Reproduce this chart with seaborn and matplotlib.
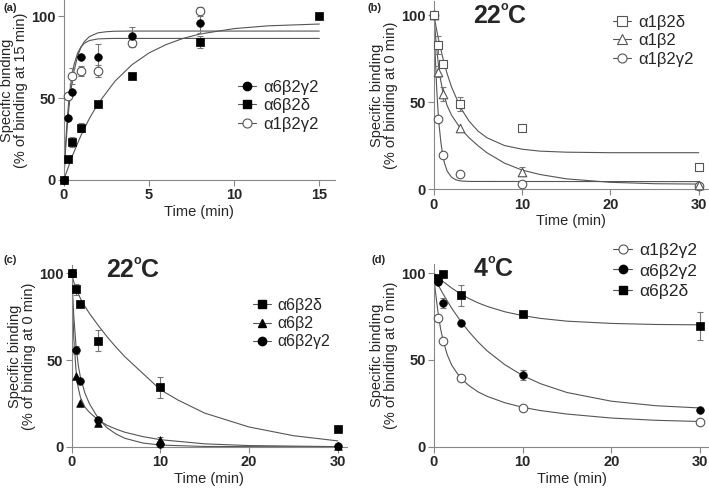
import numpy as np
import matplotlib
matplotlib.use("Agg")
import matplotlib.pyplot as plt
from matplotlib.lines import Line2D
from matplotlib.transforms import IdentityTransform
import seaborn as sns

# ---------------- data ----------------
# (a) association, % of binding at 15 min
a_g6_t = [0, 0.25, 0.5, 1, 2, 4, 8]
a_g6_y = [0, 38, 54, 75, 75, 88, 96]
a_g6_err = [0, 0, 0, 0, 8, 5.5, 6]
a_d6_t = [0, 0.25, 0.5, 1, 2, 4, 8, 15]
a_d6_y = [0, 13, 23, 32, 46.5, 63.7, 84.4, 100]
a_d6_err = [0, 0, 3, 3, 0, 0, 3.5, 0]
a_g1_t = [0.25, 0.5, 1, 2, 4, 8]
a_g1_y = [51.3, 63.5, 66.7, 66.7, 83.4, 103]
a_g1_err = [0, 5, 3, 3.5, 2, 3]

# fitted curves of (a)
a_fit_g6_t = [0, 0.1, 0.2, 0.3, 0.4, 0.5, 0.6, 0.8, 1, 1.2, 1.5, 2, 2.5, 3, 4, 15]
a_fit_g6_y = [0, 18, 32.4, 43.9, 53.2, 60.7, 66.7, 75.3, 80.9, 84.5, 87.6, 89.9, 90.6, 90.9, 91, 91]
a_fit_g1_t = [0, 0.1, 0.2, 0.3, 0.4, 0.5, 0.6, 0.8, 1, 1.2, 1.5, 2, 2.5, 3, 15]
a_fit_g1_y = [0, 21.1, 37.1, 49.1, 58.3, 65.1, 70.4, 77.3, 81.2, 83.5, 85.2, 86.2, 86.4, 86.5, 86.5]
a_fit_d6_t = [0, 0.5, 1, 1.5, 2, 3, 4, 5, 6, 7, 8, 10, 12, 15]
a_fit_d6_y = [0, 14.6, 27, 37.5, 46.4, 60.3, 70.4, 77.6, 82.7, 86.5, 89.2, 92.5, 94.2, 95.3]

# (b) dissociation at 22 C, alpha1 receptors
b_t = [0, 0.5, 1, 3, 10, 30]
b_d1_y = [100, 82.8, 71.7, 49, 35, 13]
b_d1_err = [0, 5, 0, 4, 0, 0]
b_b1_y = [100, 67.5, 54.5, 35, 10.1, 2.5]
b_b1_err = [0, 3, 4, 0, 2.5, 0]
b_g1_y = [100, 40.3, 19.7, 8.8, 3, 2]
b_g1_err = [0, 0, 0, 0, 0, 0]

b_fit_d1_t = [0, 0.25, 0.5, 1, 1.5, 2, 3, 4, 5, 6, 8, 10, 12, 15, 20, 30]
b_fit_d1_y = [100, 93, 86.6, 75.6, 66.3, 58.7, 47, 39, 33.4, 29.6, 25.1, 23, 21.9, 21.3, 21, 21]
b_fit_b1_t = [0, 0.25, 0.5, 0.75, 1, 1.5, 2, 3, 4, 5, 6, 8, 10, 12, 15, 20, 25, 30]
b_fit_b1_y = [100, 84, 72, 63, 56.5, 48, 42.5, 35, 29.5, 25, 21, 15, 11, 8.5, 6, 4, 3.2, 3]
b_fit_g1_t = [0, 0.1, 0.2, 0.3, 0.4, 0.5, 0.6, 0.8, 1, 1.2, 1.5, 2, 2.5, 3, 4, 30]
b_fit_g1_y = [100, 84, 70.7, 59.6, 50.4, 42.6, 36.2, 26.5, 19.7, 15, 10.5, 6.9, 5.4, 4.8, 4.5, 4.4]

# (c) dissociation at 22 C, alpha6 receptors
c_t = [0, 0.5, 1, 3, 10, 30]
c_d6_y = [100, 90.8, 82.6, 61.3, 34.5, 10.3]
c_d6_err = [0, 3, 0, 6, 6, 0]
c_b6_y = [100, 40.7, 25.4, 14, 4.2, 0.4]
c_b6_err = [0, 0, 0, 0, 1.5, 0]
c_g6_y = [100, 55.8, 38.2, 15.7, 1.7, 0.4]
c_g6_err = [0, 2.5, 0, 0, 0, 0]

c_fit_d6_t = [0, 0.25, 0.5, 1, 1.5, 2, 3, 4, 5, 6, 8, 10, 12, 15, 20, 25, 30]
c_fit_d6_y = [100, 95, 91, 85.5, 81, 77, 70, 63.5, 57.5, 52, 42.5, 33, 27, 19.5, 11.5, 6.5, 3.5]
c_fit_g6_t = [0, 0.25, 0.5, 0.75, 1, 1.5, 2, 3, 4, 5, 6, 8, 10, 15, 30]
c_fit_g6_y = [100, 75, 58, 47, 40, 31, 25, 16.5, 11, 7.5, 5, 2.3, 1.1, 0.3, 0]
c_fit_b6_t = [0, 0.25, 0.5, 0.75, 1, 1.5, 2, 3, 4, 5, 6, 8, 10, 15, 20, 30]
c_fit_b6_y = [100, 62, 44, 34, 28.5, 23, 20, 15.5, 12.5, 10.3, 8.5, 6, 4.2, 1.8, 0.8, 0.2]

# (d) dissociation at 4 C
d_t = [0.5, 1, 3, 10, 30]
d_g1_y = [74, 60.6, 39.4, 22.5, 14]
d_g1_err = [0, 0, 0, 1.5, 1]
d_g6_y = [94.8, 82.7, 71.2, 41.3, 21.2]
d_g6_err = [0, 3, 0, 3, 0]
d_d6_y = [97.1, 99.6, 87.1, 76.5, 69.6]
d_d6_err = [0, 0, 6, 0, 8]

d_fit_d6_t = [0, 1, 2, 3, 4, 5, 6, 8, 10, 12, 15, 20, 25, 30]
d_fit_d6_y = [100, 95.3, 91.4, 88, 85.2, 82.8, 80.8, 77.7, 75.5, 73.9, 72.3, 71, 70.4, 70.2]
d_fit_g6_t = [0, 0.5, 1, 2, 3, 4, 5, 6, 8, 10, 12, 15, 20, 25, 30]
d_fit_g6_y = [98, 93, 88.3, 79.8, 72.4, 65.9, 60.2, 55.2, 47.2, 41, 36.3, 31.2, 26.2, 23.6, 22.3]
d_fit_g1_t = [0, 0.25, 0.5, 0.75, 1, 1.5, 2, 3, 4, 5, 6, 8, 10, 12, 15, 20, 25, 30]
d_fit_g1_y = [97, 86, 76, 68, 62, 53, 47, 39.5, 35, 31.5, 29, 25.3, 22.7, 20.8, 18.8, 16.5, 15.2, 14.5]

# ---------------- style ----------------
sns.set_style("ticks")
plt.rcParams['font.family'] = ['Liberation Sans', 'DejaVu Sans']

LINE = '#555555'
GREY = '#555555'
ERR = '#777777'
SPINE = '#888888'

W, H = 709, 490
fig = plt.figure(figsize=(W / 100, H / 100), dpi=100)


def setup(ax, xlim, ylim, xticks, ylabel):
    ax.set_xlim(*xlim)
    ax.set_ylim(*ylim)
    ax.set_xticks(xticks)
    ax.set_yticks([0, 50, 100])
    sns.despine(ax=ax)
    for s in ['left', 'bottom']:
        ax.spines[s].set_color(SPINE)
        ax.spines[s].set_linewidth(0.8)
    ax.tick_params(direction='out', length=4, width=0.8, color=SPINE,
                   labelsize=10.5, pad=2)
    for lab in ax.get_xticklabels() + ax.get_yticklabels():
        lab.set_fontweight('bold')
    ax.set_xlabel('Time (min)', fontsize=10.5, labelpad=2)
    ax.set_ylabel(ylabel, fontsize=10.5, labelpad=2, linespacing=1.0)
    ax.patch.set_alpha(0)


def curve(ax, t, y):
    sns.lineplot(x=t, y=y, ax=ax, color=LINE, lw=0.8, estimator=None,
                 sort=False, zorder=2)


def points(ax, t, y, err, marker, filled, s=30):
    t = np.asarray(t, float)
    y = np.asarray(y, float)
    err = np.asarray(err, float)
    m = err > 0
    if m.any():
        ax.errorbar(t[m], y[m], yerr=err[m], fmt='none', ecolor=ERR,
                    elinewidth=0.8, capsize=2.5, capthick=0.8, zorder=3,
                    clip_on=False)
    if filled:
        sns.scatterplot(x=t, y=y, ax=ax, marker=marker, s=s, color='black',
                        edgecolor='black', linewidth=0.5, zorder=4,
                        clip_on=False)
    else:
        sns.scatterplot(x=t, y=y, ax=ax, marker=marker, s=s + 8, color='white',
                        edgecolor=GREY, linewidth=0.8, zorder=4,
                        clip_on=False)


def handle(marker, filled, label):
    if filled:
        return Line2D([0], [0], color=LINE, lw=0.8, marker=marker, markersize=6,
                      mfc='black', mec='black', label=label)
    return Line2D([0], [0], color=LINE, lw=0.8, marker=marker, markersize=6.5,
                  mfc='white', mec=GREY, mew=0.8, label=label)


def legend(ax, handles, x, y, size=12, spacing=0.2):
    # x, y: top-left corner in pixels from the top-left of the figure
    ax.legend(handles=handles, loc='upper left', bbox_to_anchor=(x / W, 1 - y / H),
              bbox_transform=fig.transFigure, frameon=False, fontsize=size,
              handlelength=1.1, handletextpad=0.4, labelspacing=spacing,
              borderpad=0, borderaxespad=0)


def temp_label(num, left, base):
    # bold number, small raised "o", then "C" (pixel coords from top-left)
    r = fig.canvas.get_renderer()
    ident = IdentityTransform()
    y = H - base
    t1 = fig.text(left, y, num, fontsize=18, fontweight='bold',
                  transform=ident, va='baseline')
    w1 = t1.get_window_extent(r).width
    t2 = fig.text(left + w1, y + 13, 'o', fontsize=9, fontweight='bold',
                  transform=ident, va='baseline')
    w2 = t2.get_window_extent(r).width
    fig.text(left + w1 + w2, y, 'C', fontsize=18, fontweight='bold',
             transform=ident, va='baseline')


ylab15 = 'Specific binding\n(% of binding at 15 min)'
ylab0 = 'Specific binding\n(% of binding at 0 min)'

# ---------------- (a) ----------------
ax = fig.add_axes([0.090, 0.633, 0.382, 0.367])
curve(ax, a_fit_g6_t, a_fit_g6_y)
curve(ax, a_fit_g1_t, a_fit_g1_y)
curve(ax, a_fit_d6_t, a_fit_d6_y)
points(ax, a_g1_t, a_g1_y, a_g1_err, 'o', False)
points(ax, a_g6_t, a_g6_y, a_g6_err, 'o', True)
points(ax, a_d6_t, a_d6_y, a_d6_err, 's', True)
setup(ax, (0, 15.9), (0, 110), [0, 5, 10, 15], ylab15)
legend(ax, [handle('o', True, 'α6β2γ2'), handle('s', True, 'α6β2δ'),
            handle('o', False, 'α1β2γ2')], 238, 80)

# ---------------- (b) ----------------
ax = fig.add_axes([0.612, 0.6137, 0.386, 0.384])
curve(ax, b_fit_d1_t, b_fit_d1_y)
curve(ax, b_fit_b1_t, b_fit_b1_y)
curve(ax, b_fit_g1_t, b_fit_g1_y)
points(ax, b_t, b_g1_y, b_g1_err, 'o', False)
points(ax, b_t, b_b1_y, b_b1_err, '^', False)
points(ax, b_t, b_d1_y, b_d1_err, 's', False)
setup(ax, (0, 31), (0, 108), [0, 10, 20, 30], ylab0)
legend(ax, [handle('s', False, 'α1β2δ'), handle('^', False, 'α1β2'),
            handle('o', False, 'α1β2γ2')], 613, 15)

# ---------------- (c) ----------------
ax = fig.add_axes([0.101, 0.0878, 0.388, 0.372])
curve(ax, c_fit_d6_t, c_fit_d6_y)
curve(ax, c_fit_g6_t, c_fit_g6_y)
curve(ax, c_fit_b6_t, c_fit_b6_y)
points(ax, c_t, c_b6_y, c_b6_err, '^', True)
points(ax, c_t, c_g6_y, c_g6_err, 'o', True)
points(ax, c_t, c_d6_y, c_d6_err, 's', True)
setup(ax, (0, 31), (0, 105), [0, 10, 20, 30], ylab0)
legend(ax, [handle('s', True, 'α6β2δ'), handle('^', True, 'α6β2'),
            handle('o', True, 'α6β2γ2')], 253, 298, size=11.5)

# ---------------- (d) ----------------
ax = fig.add_axes([0.612, 0.0884, 0.388, 0.372])
curve(ax, d_fit_d6_t, d_fit_d6_y)
curve(ax, d_fit_g6_t, d_fit_g6_y)
curve(ax, d_fit_g1_t, d_fit_g1_y)
points(ax, d_t, d_g1_y, d_g1_err, 'o', False)
points(ax, d_t, d_g6_y, d_g6_err, 'o', True)
points(ax, d_t, d_d6_y, d_d6_err, 's', True)
setup(ax, (0, 31), (0, 105), [0, 10, 20, 30], ylab0)
legend(ax, [handle('o', False, 'α1β2γ2'), handle('o', True, 'α6β2γ2'),
            handle('s', True, 'α6β2δ')], 613, 243, size=12.5, spacing=0.3)

# ---------------- panel letters and temperatures ----------------
for lab, x, y in [('(a)', 3, 8), ('(b)', 368, 8), ('(c)', 3, 260), ('(d)', 371, 260)]:
    fig.text(x / W, 1 - y / H, lab, fontsize=8, fontweight='bold',
             ha='left', va='center')

temp_label('22', 473, 23)
temp_label('22', 106, 277)
temp_label('4', 474, 276)

plt.savefig("out.png", dpi=100)
